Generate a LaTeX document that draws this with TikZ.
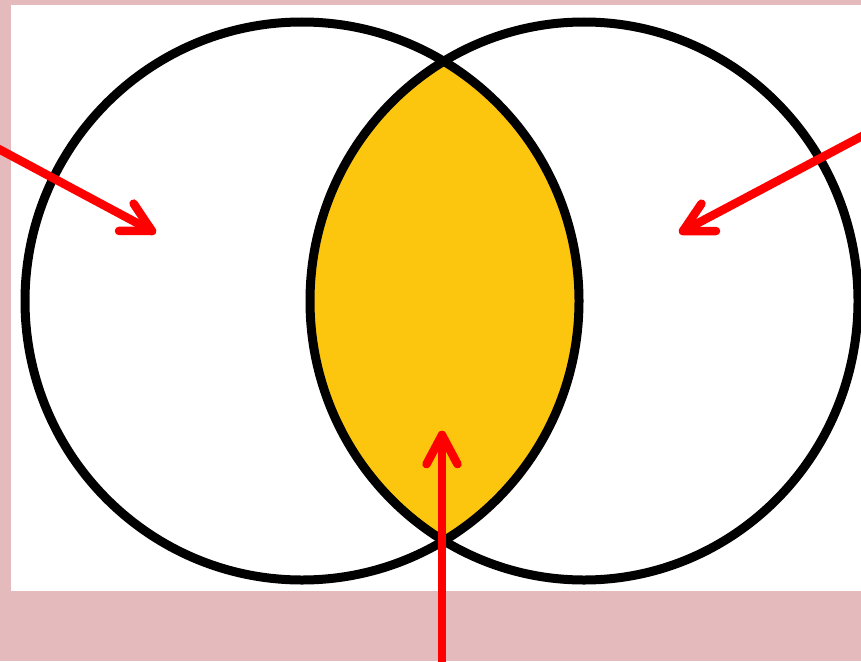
\documentclass[tikz,border=0pt]{standalone}
\usetikzlibrary{calc}
\definecolor{bgpink}{RGB}{229,186,188}
\definecolor{lensyellow}{RGB}{253,198,14}
\definecolor{arrowred}{RGB}{255,0,0}
\tikzset{
  ring/.style={draw=black, line width=9pt},
  pointer/.style={draw=arrowred, line width=8.5pt, line cap=round, line join=round},
}
\begin{document}
\begin{tikzpicture}[x=1pt,y=-1pt]
\useasboundingbox (0,0) rectangle (861,661);
\fill[bgpink] (0,0) rectangle (861,661);
\fill[white] (11,5) rectangle (861,591);
% lens
\begin{scope}
  \clip (302,301) ellipse [x radius=277, y radius=279];
  \fill[lensyellow] (584,301) ellipse [x radius=274, y radius=279];
\end{scope}
% circles
\path[ring] (302,301) ellipse [x radius=277, y radius=279];
\path[ring] (584,301) ellipse [x radius=274, y radius=279];
% arrow coordinates
\coordinate (ls) at (-5,147);
\coordinate (lt) at (152,231);
\coordinate (rs) at (866,134);
\coordinate (rt) at (683,231);
\coordinate (bs) at (442,670);
\coordinate (bt) at (442,435);
% arrows
\foreach \s/\t in {ls/lt, rs/rt, bs/bt}{
  \path[pointer] (\s) -- (\t);
  \path[pointer] ($(\t)!33pt!28:(\s)$) -- (\t) -- ($(\t)!33pt!-28:(\s)$);
}
\end{tikzpicture}
\end{document}
